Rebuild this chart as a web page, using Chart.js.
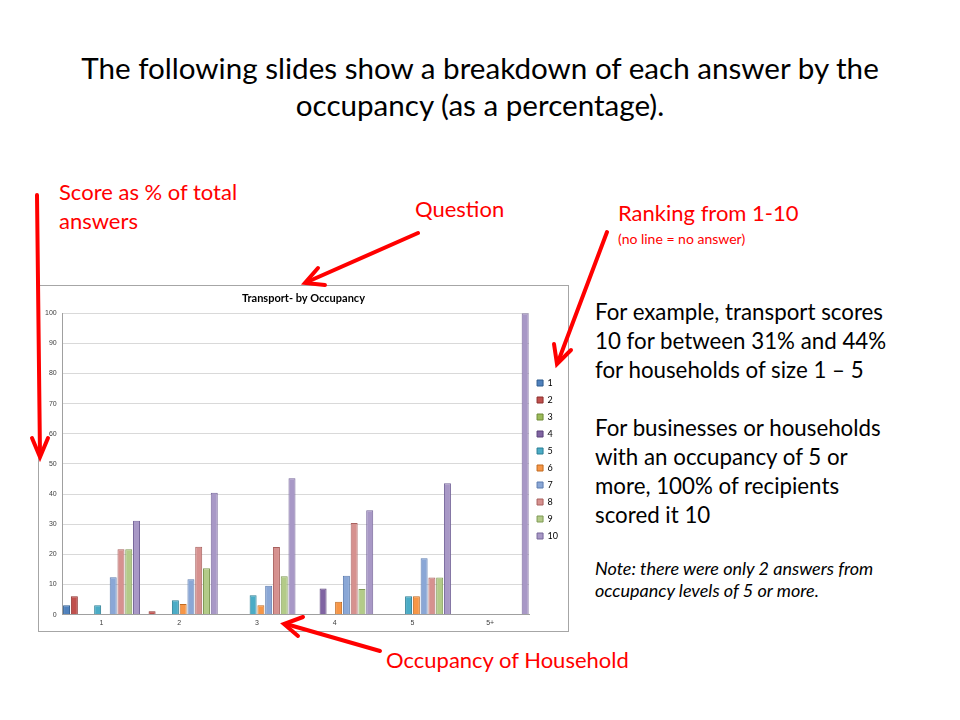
<!DOCTYPE html>
<html>
<head>
<meta charset="utf-8">
<script src="https://cdn.jsdelivr.net/npm/chart.js@4.4.1/dist/chart.umd.min.js"></script>
<style>
  html, body { margin: 0; padding: 0; background: #fff; }
  body { width: 960px; height: 720px; position: relative; overflow: hidden; font-family: Lato, "Open Sans", sans-serif; }
  .t { position: absolute; white-space: nowrap; }
  .red { color: #ff0000; font-size: 22px; line-height: 29px; }
  .blk { color: #000; font-size: 22.3px; line-height: 29px; }
  #heading { left: 0; width: 960px; top: 49px; text-align: center; font-size: 29.6px; line-height: 37px; color: #000; }
  #box { position: absolute; left: 38px; top: 285px; width: 531px; height: 347px; border: 1px solid #a6a6a6; box-sizing: border-box; }
  #arrows { position: absolute; left: 0; top: 0; pointer-events: none; }
</style>
</head>
<body>
<div id="heading" class="t">The following slides show a breakdown of each answer by the<br>occupancy (as a percentage).</div>

<div class="t red" style="left:59px; top:177px;">Score as % of total<br>answers</div>
<div class="t red" style="left:415px; top:194px;">Question</div>
<div class="t red" style="left:618px; top:198px;">Ranking from 1-10</div>
<div class="t" style="left:618px; top:231px; font-size:14px; line-height:16px; color:#ff0000;">(no line = no answer)</div>
<div class="t red" style="left:386px; top:645px;">Occupancy of Household</div>

<div class="t blk" style="left:595px; top:297px;">For example, transport scores<br>10 for between 31% and 44%<br>for households of size 1 &ndash; 5</div>
<div class="t blk" style="left:595px; top:413px;">For businesses or households<br>with an occupancy of 5 or<br>more, 100% of recipients<br>scored it 10</div>
<div class="t" style="left:595px; top:557px; font-size:18px; line-height:22px; font-style:italic;">Note: there were only 2 answers from<br>occupancy levels of 5 or more.</div>

<div id="box"><canvas id="chart" width="529" height="345"></canvas></div>

<svg id="arrows" width="960" height="720">
  <g stroke="#ff0000" stroke-width="4" fill="none" stroke-linecap="round">
    <line x1="37" y1="195" x2="40" y2="455"/>
    <polyline points="32,438 40,457 48,438"/>
    <line x1="418" y1="233" x2="307" y2="282"/>
    <polyline points="318,268 305,283 325,285"/>
    <line x1="607" y1="232" x2="558" y2="362"/>
    <polyline points="554,344 557,364 571,350"/>
    <line x1="380" y1="651" x2="286" y2="624"/>
    <polyline points="303,617 284,624 298,636"/>
  </g>
</svg>

<script>
// Occupancy groups and answer rankings
var occupancy = ["1", "2", "3", "4", "5", "5+"];
var rankLabels = ["1", "2", "3", "4", "5", "6", "7", "8", "9", "10"];
var yTicks = [0, 10, 20, 30, 40, 50, 60, 70, 80, 90, 100];

// score % per ranking, one value per occupancy group
var rank1  = [3.1, 0, 0, 0, 0, 0];
var rank2  = [6.1, 1.1, 0, 0, 0, 0];
var rank3  = [0, 0, 0, 0, 0, 0];
var rank4  = [0, 0, 0, 8.7, 0, 0];
var rank5  = [3.1, 4.8, 6.4, 0, 6.1, 0];
var rank6  = [0, 3.5, 3.1, 4.3, 6.1, 0];
var rank7  = [12.4, 11.7, 9.6, 12.9, 18.7, 0];
var rank8  = [21.7, 22.5, 22.4, 30.4, 12.3, 0];
var rank9  = [21.7, 15.4, 12.7, 8.5, 12.3, 0];
var rank10 = [31.1, 40.4, 45.2, 34.6, 43.6, 100];

var series = [rank1, rank2, rank3, rank4, rank5, rank6, rank7, rank8, rank9, rank10];
var fills = ["#4F81BD", "#C0504D", "#9BBB59", "#8064A2", "#4BACC6", "#F79646",
             "#8AA7D6", "#D6918F", "#B3CB88", "#A898C6"];
var edges = ["#2F5C8F", "#8C2F2C", "#6E8A36", "#5A437A", "#2B7E94", "#C06A20",
             "#5D7DB0", "#A8605E", "#7F9A55", "#76669A"];

var datasets = series.map(function (vals, i) {
    return {
        label: rankLabels[i],
        data: vals,
        backgroundColor: fills[i],
        borderColor: edges[i],
        borderWidth: 1,
        barPercentage: 0.9,
        categoryPercentage: 1.0
    };
});

var ctx = document.getElementById("chart").getContext("2d");
var occChart = new Chart(ctx, {
    type: "bar",
    data: { labels: occupancy, datasets: datasets },
    options: {
        responsive: false,
        animation: false,
        layout: { padding: { left: 0, right: 0, top: 2, bottom: 0 } },
        plugins: {
            title: {
                display: true,
                text: "Transport- by Occupancy",
                color: "#000",
                font: { family: "Lato, 'Open Sans', sans-serif", size: 11, weight: "bold" },
                padding: { top: 4, bottom: 8 }
            },
            legend: {
                position: "right",
                labels: {
                    boxWidth: 6,
                    boxHeight: 6,
                    padding: 8,
                    color: "#000",
                    font: { family: "Lato, 'Open Sans', sans-serif", size: 9 }
                }
            },
            tooltip: { enabled: false }
        },
        scales: {
            y: {
                min: 0,
                max: 100,
                afterBuildTicks: function (axis) {
                    axis.ticks = yTicks.map(function (v) { return { value: v }; });
                },
                ticks: { color: "#404040", font: { size: 7 }, padding: 6 },
                grid: { color: "#d9d9d9", drawTicks: false, tickLength: 0 },
                border: { color: "#a0a0a0" }
            },
            x: {
                grid: { display: false, drawTicks: false, tickLength: 0 },
                ticks: { color: "#404040", font: { size: 7 }, padding: 4 },
                border: { color: "#a0a0a0" }
            }
        }
    }
});
</script>
</body>
</html>
